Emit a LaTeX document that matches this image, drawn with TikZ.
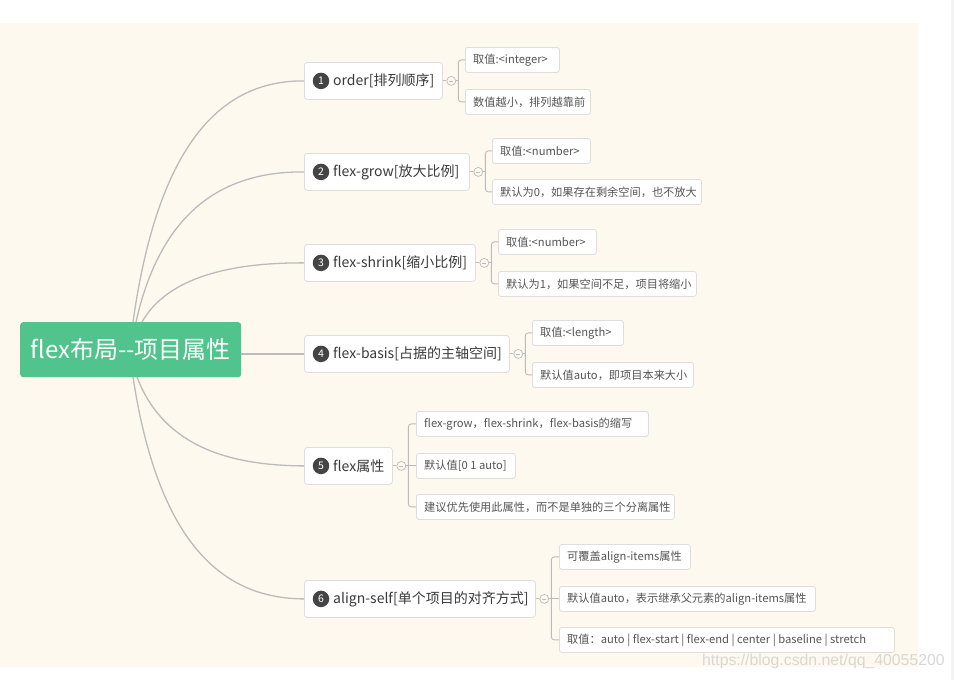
\documentclass[tikz,border=0pt]{standalone}
\usepackage{fontspec}
\setmainfont{Noto Sans CJK SC}
\newfontfamily\wmfont{Liberation Sans}
\definecolor{bgcream}{RGB}{253,249,239}
\definecolor{stripgray}{RGB}{243,243,243}
\definecolor{linegray}{RGB}{187,187,187}
\definecolor{boxborder}{RGB}{222,222,222}
\definecolor{rootgreen}{RGB}{81,195,140}
\definecolor{badgegray}{RGB}{68,68,68}
\definecolor{btextcol}{RGB}{58,58,58}
\definecolor{ctextcol}{RGB}{85,85,85}
\definecolor{wmgray}{RGB}{215,215,215}
\tikzset{
  rootbox/.style={draw=none, fill=rootgreen, rounded corners=3pt, text=white,
    font=\fontsize{24}{28}\selectfont, inner sep=0pt, minimum width=221pt, minimum height=55pt},
  bbox/.style={draw=boxborder, fill=white, rounded corners=3pt, line width=0.8pt,
    inner sep=0pt, minimum height=37pt},
  cbox/.style={draw=boxborder, fill=white, rounded corners=2.5pt, line width=0.8pt,
    inner sep=0pt, minimum height=25pt},
  badge/.style={circle, fill=badgegray, text=white, inner sep=0pt, minimum size=16.5pt,
    font=\fontsize{10.5}{10.5}\selectfont},
  btext/.style={text=btextcol, inner sep=0pt, font=\fontsize{14}{16}\selectfont},
  ctext/.style={text=ctextcol, inner sep=0pt, font=\fontsize{11.2}{13}\selectfont},
  mainline/.style={draw=linegray, line width=1.3pt},
  cline/.style={draw=linegray, line width=0.9pt},
  fold/.style={circle, draw=linegray, fill=bgcream, line width=0.7pt, inner sep=0pt,
    minimum size=9pt,
    path picture={\draw[linegray, line width=0.6pt]
      ([xshift=-2pt]path picture bounding box.center) -- ([xshift=2pt]path picture bounding box.center);}}
}
\newcommand\mmbranch[5]{%
  \node[bbox, minimum width=#3pt, anchor=north west] (#1) at (#2) {};
  \node[badge] (#1n) at ([xshift=17pt]#1.west) {#4};
  \node[btext, anchor=west] (#1t) at ([xshift=29pt]#1.west) {#5};
}
\newcommand\mmchild[4]{%
  \node[cbox, minimum width=#3pt, anchor=north west] (#1) at (#2) {};
  \node[ctext, anchor=west] (#1t) at ([xshift=8pt]#1.west) {#4};
}
\newcommand\mmfold[2]{%
  \node[fold] (#2) at ([xshift=8.5pt]#1.east) {};
  \coordinate (#2k) at ([xshift=15.5pt]#1.east);
  \draw[cline] (#1.east) -- (#2.west);
  \draw[cline] (#2.east) -- (#2k);
}
\begin{document}
\begin{tikzpicture}[x=1pt,y=-1pt]
\useasboundingbox (0,0) rectangle (954,680);
\fill[white] (0,0) rectangle (954,680);
\fill[bgcream] (0,23) rectangle (918,667);
\fill[stripgray] (951,0) rectangle (954,680);

% start points of the root connectors
\coordinate (s1) at (133,322);
\coordinate (s2) at (136,322);
\coordinate (s3) at (142,322);
\coordinate (s5) at (137,377);
\coordinate (s6) at (133,377);

% root
\node[rootbox, anchor=north west] (root) at (20,322) {flex布局-{}-项目属性};

% branches
\mmbranch{b1}{304,62}{138}{1}{order[排列顺序]}
\mmbranch{b2}{304,153}{165}{2}{flex-grow[放大比例]}
\mmbranch{b3}{304,244}{171}{3}{flex-shrink[缩小比例]}
\mmbranch{b4}{304,335}{205}{4}{flex-basis[占据的主轴空间]}
\mmbranch{b5}{304,447}{88}{5}{flex属性}
\mmbranch{b6}{304,580}{231}{6}{align-self[单个项目的对齐方式]}

\draw[mainline] (s1) .. controls (160,130) and (230,80.5) .. (b1.west);
\draw[mainline] (s2) .. controls (163,202) and (232,171.5) .. (b2.west);
\draw[mainline] (s3) .. controls (168,276) and (234,262.5) .. (b3.west);
\draw[mainline] (root.east |- b4.west) -- (b4.west);
\draw[mainline] (s5) .. controls (164,448) and (232,465.5) .. (b5.west);
\draw[mainline] (s6) .. controls (160,554) and (230,598.5) .. (b6.west);

% children
\mmchild{c11}{465,47}{94}{取值:<integer>}
\mmchild{c12}{465,89}{125}{数值越小，排列越靠前}
\mmchild{c21}{492,138}{98}{取值:<number>}
\mmchild{c22}{492,179}{209}{默认为0，如果存在剩余空间，也不放大}
\mmchild{c31}{498,229}{98}{取值:<number>}
\mmchild{c32}{498,271}{198}{默认为1，如果空间不足，项目将缩小}
\mmchild{c41}{532,320}{91}{取值:<length>}
\mmchild{c42}{532,362}{161}{默认值auto，即项目本来大小}
\mmchild{c51}{416,411}{232}{flex-grow，flex-shrink，flex-basis的缩写}
\mmchild{c52}{416,453}{99}{默认值[0 1 auto]}
\mmchild{c53}{416,494}{258}{建议优先使用此属性，而不是单独的三个分离属性}
\mmchild{c61}{559,544}{131}{可覆盖align-items属性}
\mmchild{c62}{559,586}{256}{默认值auto，表示继承父元素的align-items属性}
\mmchild{c63}{559,627}{335}{取值：auto | flex-start | flex-end | center | baseline | stretch}

% folds and brackets
\mmfold{b1}{o1}
\draw[cline, rounded corners=3pt] (c11.west) -- (c11.west -| o1k) -- (c12.west -| o1k) -- (c12.west);
\mmfold{b2}{o2}
\draw[cline, rounded corners=3pt] (c21.west) -- (c21.west -| o2k) -- (c22.west -| o2k) -- (c22.west);
\mmfold{b3}{o3}
\draw[cline, rounded corners=3pt] (c31.west) -- (c31.west -| o3k) -- (c32.west -| o3k) -- (c32.west);
\mmfold{b4}{o4}
\draw[cline, rounded corners=3pt] (c41.west) -- (c41.west -| o4k) -- (c42.west -| o4k) -- (c42.west);
\mmfold{b5}{o5}
\draw[cline, rounded corners=3pt] (c51.west) -- (c51.west -| o5k) -- (c53.west -| o5k) -- (c53.west);
\draw[cline] (c52.west -| o5k) -- (c52.west);
\mmfold{b6}{o6}
\draw[cline, rounded corners=3pt] (c61.west) -- (c61.west -| o6k) -- (c63.west -| o6k) -- (c63.west);
\draw[cline] (c62.west -| o6k) -- (c62.west);

% watermark
\node[anchor=base west, inner sep=0pt, text=wmgray, font=\wmfont\fontsize{15.8}{15.8}\selectfont]
  (wm) at (702,665) {https://blog.csdn.net/qq\_40055200};
\end{tikzpicture}
\end{document}
